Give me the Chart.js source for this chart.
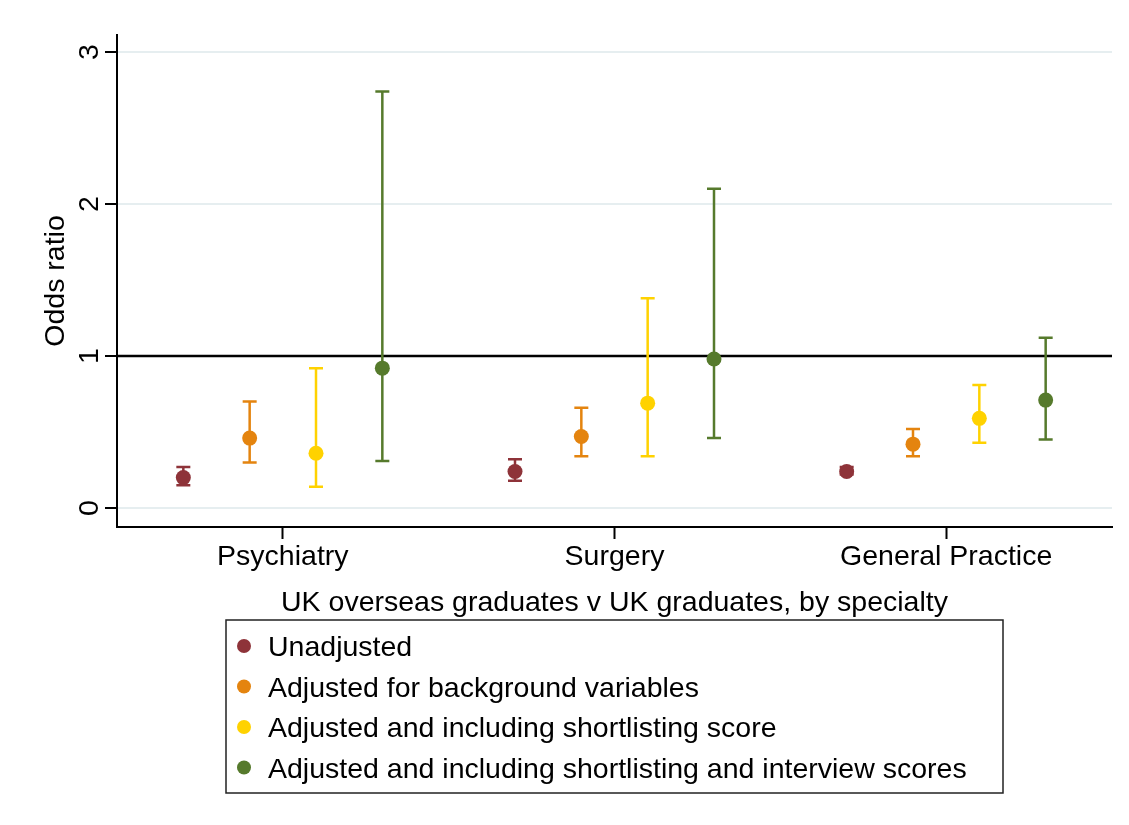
<!DOCTYPE html>
<html>
<head>
<meta charset="utf-8">
<script src="https://cdn.jsdelivr.net/npm/chart.js@4.4.0/dist/chart.umd.min.js"></script>
<style>
  html, body { margin: 0; padding: 0; background: #fff; }
  #wrap { position: relative; width: 1129px; height: 825px; }
</style>
</head>
<body>
<div id="wrap"><canvas id="c"></canvas></div>
<script>
// ---- data ----
const categories = ['Psychiatry', 'Surgery', 'General Practice'];
const seriesLabels = [
  'Unadjusted',
  'Adjusted for background variables',
  'Adjusted and including shortlisting score',
  'Adjusted and including shortlisting and interview scores'
];
const unadjusted   = [0.20, 0.24, 0.24];
const unadjustedLo = [0.15, 0.18, 0.22];
const unadjustedHi = [0.27, 0.32, 0.27];
const background   = [0.46, 0.47, 0.42];
const backgroundLo = [0.30, 0.34, 0.34];
const backgroundHi = [0.70, 0.66, 0.52];
const shortlist    = [0.36, 0.69, 0.59];
const shortlistLo  = [0.14, 0.34, 0.43];
const shortlistHi  = [0.92, 1.38, 0.81];
const interview    = [0.92, 0.98, 0.71];
const interviewLo  = [0.31, 0.46, 0.45];
const interviewHi  = [2.74, 2.10, 1.12];
const yTicks = [0, 1, 2, 3];
const refValue = 1;
const xTitle = 'UK overseas graduates v UK graduates, by specialty';
const yTitle = 'Odds ratio';

// ---- styling ----
const colors = ['#8e3339', '#e4840f', '#ffd200', '#567a2c'];
const groupOffsets = [-0.3, -0.1, 0.1, 0.3];
const FONT = '"Liberation Sans", Arial, Helvetica, sans-serif';
const FS = 28.5;

const values = [unadjusted, background, shortlist, interview];
const los = [unadjustedLo, backgroundLo, shortlistLo, interviewLo];
const his = [unadjustedHi, backgroundHi, shortlistHi, interviewHi];

const datasets = values.map((vals, s) => ({
  label: seriesLabels[s],
  data: vals.map((v, i) => ({ x: i + 1 + groupOffsets[s], y: v, lo: los[s][i], hi: his[s][i] })),
  backgroundColor: colors[s],
  borderColor: colors[s],
  pointRadius: 7.5,
  pointHoverRadius: 7.5,
  pointBorderWidth: 0
}));

const decor = {
  id: 'decor',
  beforeDatasetsDraw(chart) {
    const ctx = chart.ctx, x = chart.scales.x, y = chart.scales.y;
    const a = chart.chartArea;
    // reference line
    ctx.save();
    ctx.strokeStyle = '#000';
    ctx.lineWidth = 2.5;
    ctx.beginPath();
    ctx.moveTo(a.left, y.getPixelForValue(refValue));
    ctx.lineTo(a.right, y.getPixelForValue(refValue));
    ctx.stroke();
    // error bars
    chart.data.datasets.forEach(ds => {
      ctx.strokeStyle = ds.borderColor;
      ctx.lineWidth = 2.5;
      ds.data.forEach(p => {
        const px = x.getPixelForValue(p.x);
        const pl = y.getPixelForValue(p.lo);
        const ph = y.getPixelForValue(p.hi);
        ctx.beginPath();
        ctx.moveTo(px, pl); ctx.lineTo(px, ph);
        ctx.moveTo(px - 7, pl); ctx.lineTo(px + 7, pl);
        ctx.moveTo(px - 7, ph); ctx.lineTo(px + 7, ph);
        ctx.stroke();
      });
    });
    ctx.restore();
  },
  afterDraw(chart) {
    const ctx = chart.ctx, x = chart.scales.x, y = chart.scales.y;
    const a = chart.chartArea;
    ctx.save();
    ctx.fillStyle = '#000';
    ctx.font = FS + 'px ' + FONT;
    // y tick labels (rotated)
    yTicks.forEach(t => {
      ctx.save();
      ctx.translate(98, y.getPixelForValue(t));
      ctx.rotate(-Math.PI / 2);
      ctx.textAlign = 'center';
      ctx.textBaseline = 'alphabetic';
      ctx.fillText(String(t), 0, 0);
      ctx.restore();
    });
    // y title
    ctx.save();
    ctx.translate(64, (a.top + a.bottom) / 2);
    ctx.rotate(-Math.PI / 2);
    ctx.textAlign = 'center';
    ctx.textBaseline = 'alphabetic';
    ctx.fillText(yTitle, 0, 0);
    ctx.restore();
    // x tick labels
    ctx.textAlign = 'center';
    ctx.textBaseline = 'alphabetic';
    categories.forEach((c, i) => {
      ctx.fillText(c, x.getPixelForValue(i + 1), 565);
    });
    // x title
    ctx.fillText(xTitle, (a.left + a.right) / 2, 611);
    // legend
    ctx.strokeStyle = '#222';
    ctx.lineWidth = 1.5;
    ctx.strokeRect(226, 620, 777, 173);
    ctx.textAlign = 'left';
    chart.data.datasets.forEach((ds, i) => {
      const cy = 646 + i * 40.5;
      ctx.fillStyle = ds.backgroundColor;
      ctx.beginPath();
      ctx.arc(244, cy, 7, 0, Math.PI * 2);
      ctx.fill();
      ctx.fillStyle = '#000';
      ctx.fillText(ds.label, 268, cy + 10);
    });
    ctx.restore();
  }
};

new Chart(document.getElementById('c'), {
  type: 'scatter',
  data: { datasets },
  plugins: [decor],
  options: {
    responsive: true,
    maintainAspectRatio: false,
    animation: false,
    layout: { padding: { top: 35, right: 17, left: 0, bottom: 0 } },
    plugins: { legend: { display: false }, tooltip: { enabled: false } },
    scales: {
      x: {
        type: 'linear',
        min: 0.5, max: 3.5,
        afterBuildTicks: s => { s.ticks = categories.map((c, i) => ({ value: i + 1 })); },
        afterFit: s => { s.height = 825 - 527; },
        ticks: { display: false },
        grid: { drawOnChartArea: false, drawTicks: true, tickLength: 12, tickColor: '#000', tickWidth: 2 },
        border: { display: true, color: '#000', width: 2 }
      },
      y: {
        type: 'linear',
        min: -0.125, max: 3.112,
        afterBuildTicks: s => { s.ticks = yTicks.map(v => ({ value: v })); },
        afterFit: s => { s.width = 117; },
        ticks: { display: false },
        grid: {
          color: c => (c.tick && c.tick.value === refValue) ? 'rgba(0,0,0,0)' : '#e6eef0',
          lineWidth: 2,
          drawTicks: true, tickLength: 12, tickColor: '#000', tickWidth: 2
        },
        border: { display: true, color: '#000', width: 2 }
      }
    }
  }
});
</script>
</body>
</html>
